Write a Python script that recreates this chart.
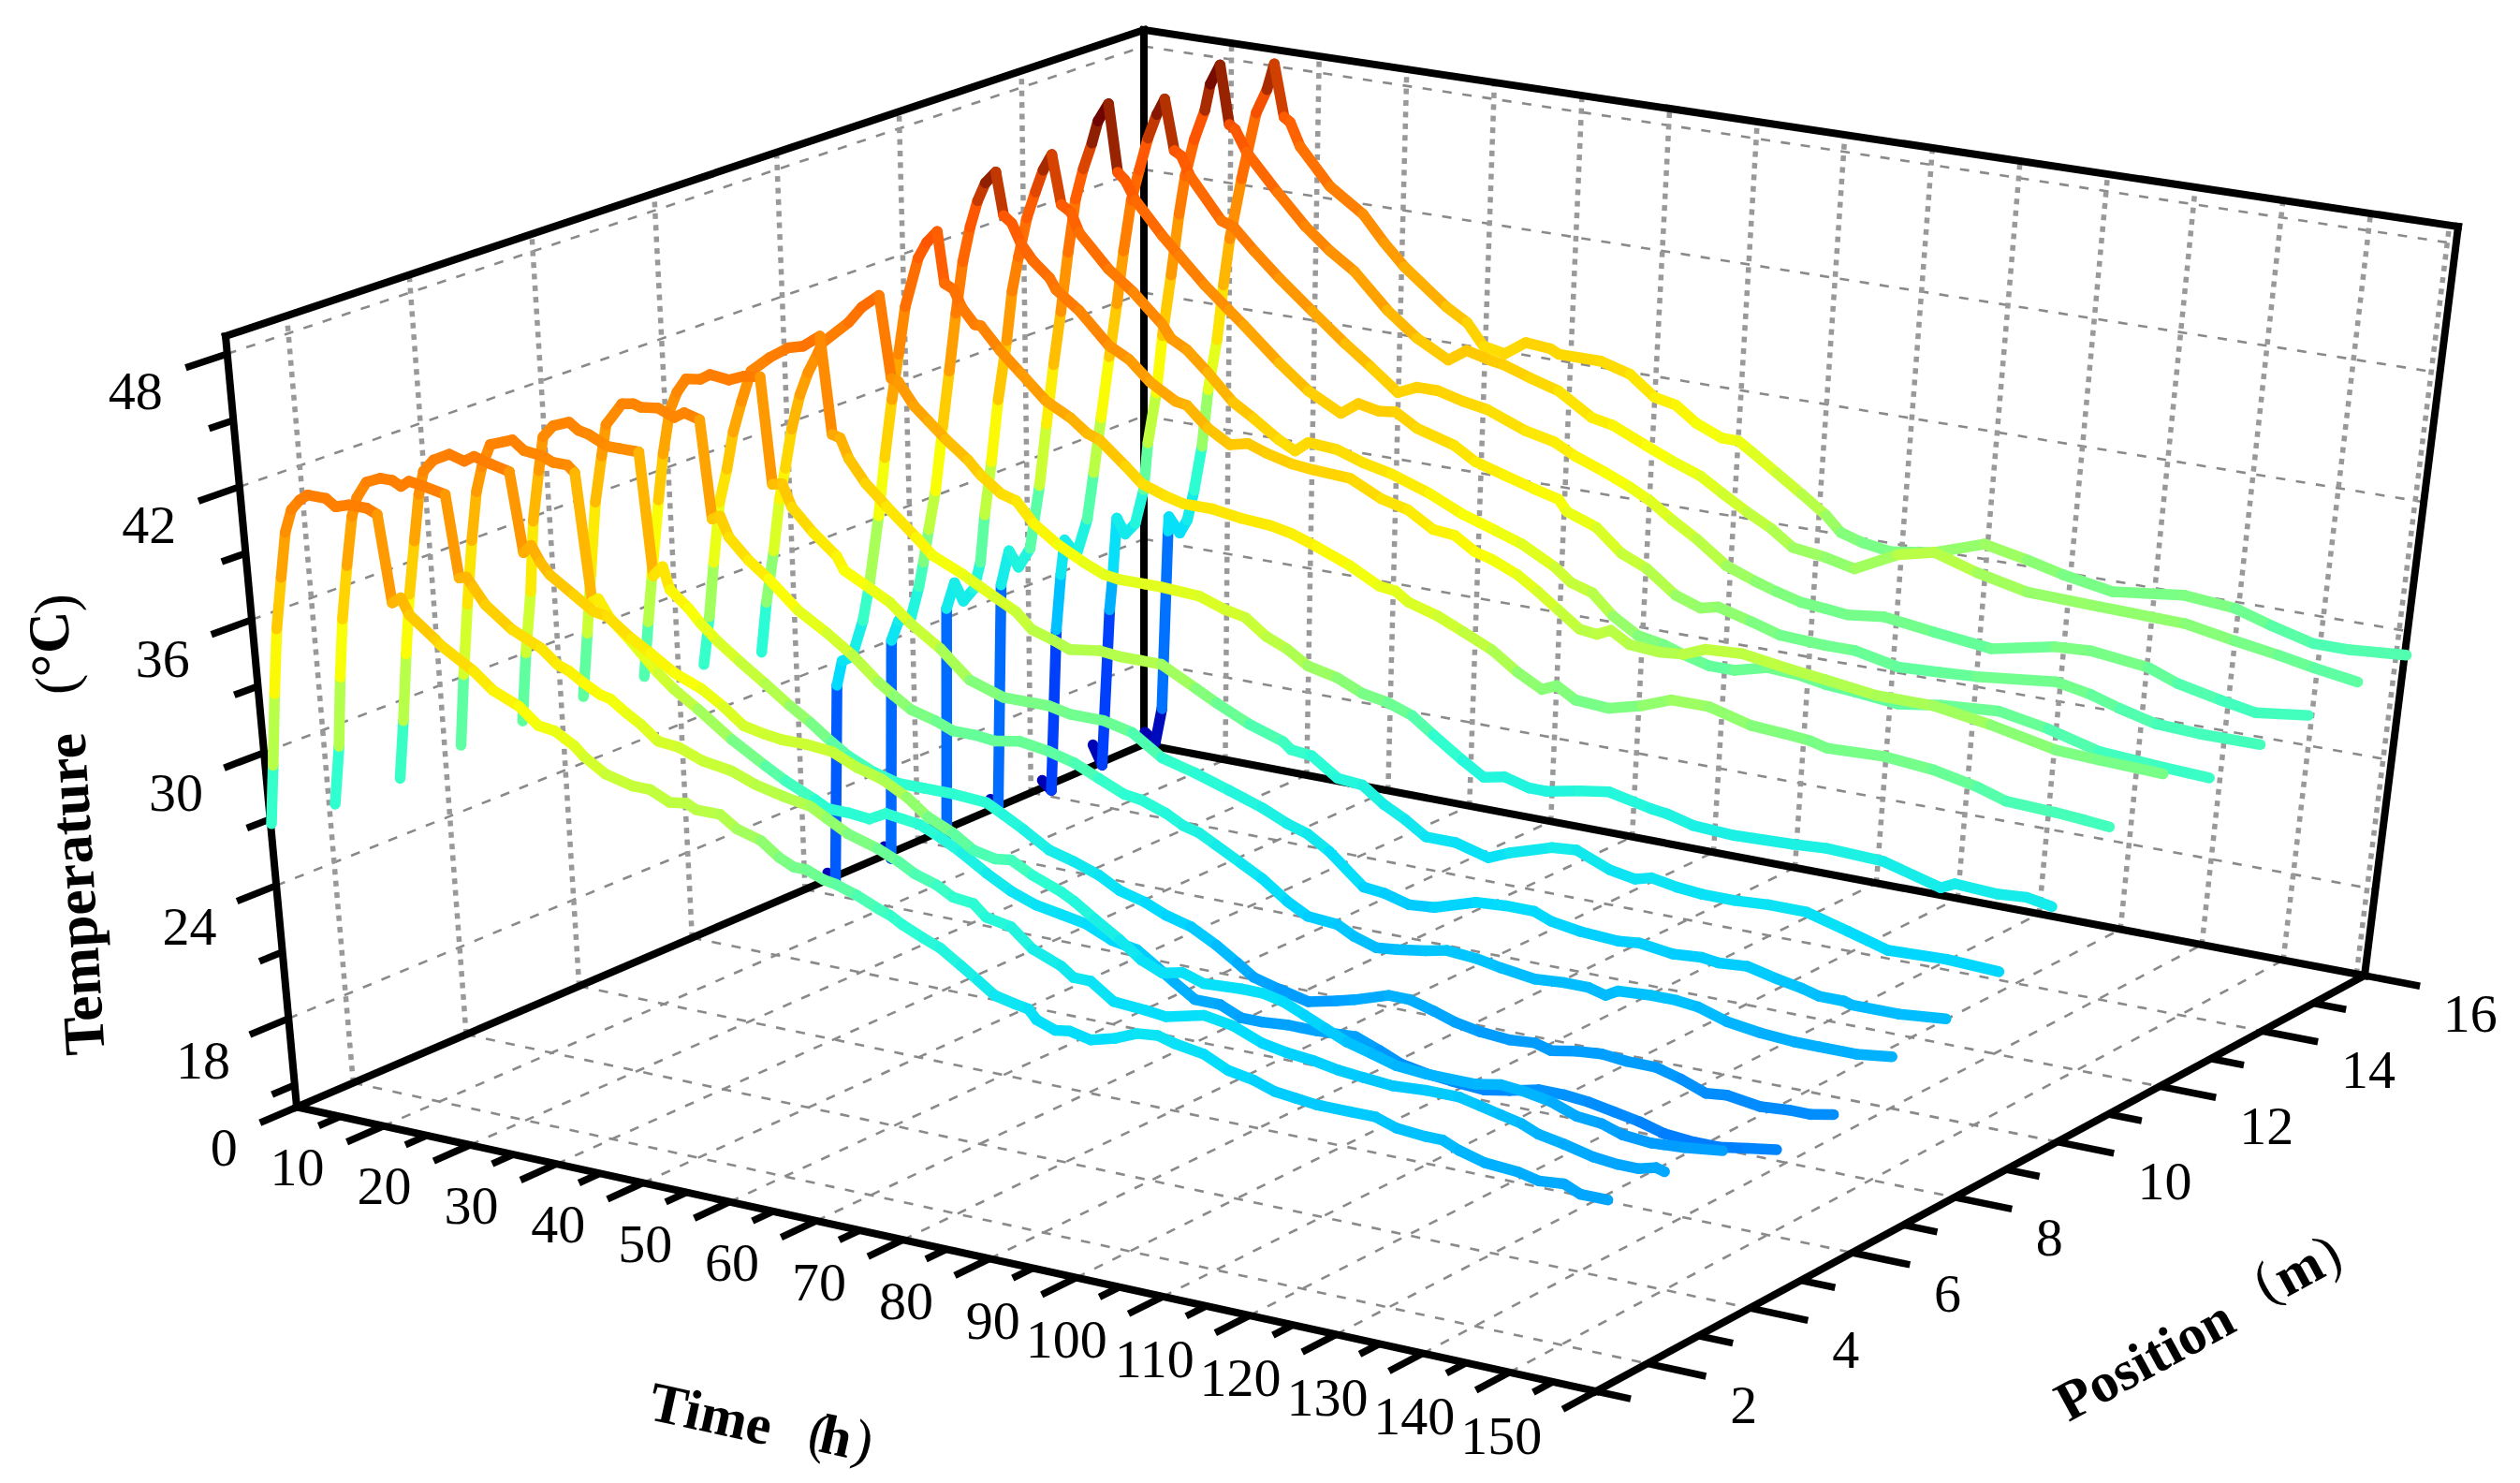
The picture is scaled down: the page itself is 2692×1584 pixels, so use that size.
import numpy as np, pandas as pd, altair as alt

# (time h, temperature C), one list per position (1..16 m)
L1=[(0.1,26.8),(0.9,29.5),(1.8,32.8),(2.7,35.8),(3.7,38.2),(4.6,40.3),(5.5,41.4),(6.5,41.9),(7.4,42.2),(9.4,42.2),(10.4,41.9),(11.9,42.1),(13.8,42.1),(14.9,41.9),(15.8,38.0),(16.8,38.3),
(17.6,37.6),(20.3,36.7),(20.8,36.5),(24.3,35.6),(26.3,34.9),(29.1,34.4),(31.1,33.7),(32.9,33.6),(35.0,33.1),(36.0,32.7),(38.3,32.1),(41.3,31.8),(43.2,31.8),(45.3,31.4),(47.2,31.5),(48.2,31.3),
(50.9,31.3),(52.7,30.8),(55.3,30.5),(57.3,29.9),(58.9,29.6),(60.3,29.6),(62.2,29.3),(63.6,29.2),(65.9,28.9),(68.2,28.5),(69.6,28.3),(70.9,28.0),(73.2,27.6),(75.1,27.3),(77.4,26.7),(79.3,26.2),
(81.1,25.7),(83.4,25.5),(84.9,25.4),(85.8,25.0),(87.9,24.7),(89.5,24.8),(91.9,24.6),(94.7,24.9),(97.1,25.3),(99.4,25.4),(101.3,25.2),(104.6,25.0),(107.4,24.5),(110.3,24.3),(112.6,24.0),(115.0,23.9),
(117.3,23.8),(117.9,23.8),(121.2,23.8),(124.0,23.8),(126.4,23.5),(129.7,23.4),(131.6,23.4),(133.5,23.1),(136.4,22.8),(140.2,22.7),(142.6,22.5),(145.4,22.6),(147.3,22.3),(150.4,22.3)]
L2=[(0.7,26.7),(1.7,29.4),(2.5,32.6),(3.3,35.3),(4.3,37.8),(5.3,40.1),(6.0,41.0),(7.2,41.8),(8.8,42.1),(10.1,42.1),(11.0,41.9),(11.9,42.2),(13.5,42.1),(15.8,41.9),(16.7,38.2),(17.5,38.3),
(18.2,37.9),(19.4,37.2),(22.2,36.3),(25.3,35.7),(27.0,35.1),(28.3,34.9),(29.8,34.5),(31.6,34.1),(32.7,34.0),(34.4,33.5),(36.0,33.1),(37.8,32.5),(40.1,32.4),(42.7,32.0),(45.9,31.8),(48.5,31.4),
(51.7,31.1),(54.6,30.9),(56.4,30.5),(58.7,30.0),(62.0,29.6),(64.3,29.2),(66.1,28.8),(68.5,28.5),(70.3,28.1),(72.6,28.0),(74.0,27.5),(76.8,27.3),(79.2,26.5),(82.4,26.0),(83.8,25.6),(85.7,25.6),
(88.3,24.9),(91.9,24.8),(94.2,24.7),(98.5,25.1),(101.8,24.9),(105.1,24.4),(107.9,24.2),(110.8,24.1),(113.7,23.9),(116.6,23.8),(119.9,23.7),(123.7,23.8),(127.5,23.8),(129.9,23.6),(132.2,23.4),(134.6,23.2),
(136.5,22.9),(139.4,22.7),(142.8,22.4),(145.6,22.3),(148.0,22.3),(149.9,22.5),(150.9,22.4)]
L3=[(1.5,26.9),(2.4,29.6),(3.3,32.7),(4.2,35.5),(5.2,38.0),(6.1,40.2),(6.8,41.3),(8.0,41.9),(9.8,42.3),(11.4,42.1),(12.5,42.4),(14.3,42.2),(16.3,42.0),(17.3,38.4),(18.2,38.8),(19.1,38.1),
(20.1,37.6),(22.6,36.9),(24.7,36.3),(26.2,36.2),(28.8,35.4),(30.8,34.9),(33.4,34.2),(36.4,33.7),(38.7,33.1),(40.9,32.4),(43.3,32.2),(45.1,32.1),(47.9,32.1),(50.7,32.0),(53.5,31.5),(56.2,31.2),
(59.0,30.6),(61.3,29.9),(64.1,29.4),(66.4,28.8),(68.8,28.6),(70.6,28.7),(73.0,28.2),(76.3,27.7),(77.7,27.4),(80.0,26.8),(82.8,26.1),(85.2,25.4),(87.6,25.0),(89.9,25.2),(92.3,24.9),(96.6,25.0),
(99.0,25.0),(101.4,24.8),(103.8,24.4),(106.2,24.0),(108.6,23.6),(111.5,23.3),(114.3,23.0),(117.7,22.9),(120.5,22.9),(123.4,22.9),(126.2,23.1),(129.1,23.0),(132.0,22.8),(134.9,22.4),(137.8,22.3),(140.2,22.0),
(143.5,21.9),(147.3,22.0),(151.6,22.2)]
L4=[(1.9,27.4),(2.8,30.7),(3.8,34.0),(4.8,37.0),(5.7,39.3),(6.5,40.5),(7.6,41.6),(10.1,42.0),(11.3,41.6),(13.4,41.5),(14.4,41.3),(16.0,41.3),(16.8,41.0),(17.9,35.2),(18.6,35.4),(19.8,34.6),
(22.1,33.7),(24.9,32.5),(26.6,31.9),(29.2,31.2),(32.9,30.1),(36.6,29.2),(38.8,28.7),(42.1,28.1),(43.5,27.8),(45.8,27.8),(48.2,27.7),(50.1,28.1),(53.9,27.9),(56.2,27.5),(58.6,27.0),(61.4,26.3),
(64.2,25.7),(67.0,25.3),(69.9,25.1),(72.7,24.9),(75.6,24.4),(78.5,24.2),(80.8,23.6),(82.7,23.1),(85.1,22.5),(88.0,22.5),(90.4,22.1),(92.8,22.1),(95.7,22.2),(97.2,22.2),(99.1,22.2),(103.5,22.3),
(106.3,21.9),(108.8,21.5),(111.7,21.3),(114.6,21.2),(118.4,21.1),(121.3,21.3),(124.6,21.6),(127.5,21.6),(130.4,21.5),(133.3,21.3),(136.2,21.1),(139.1,20.8),(142.5,20.7),(145.4,20.7),(148.7,20.9),(152.0,21.1)]
L5=[(2.3,27.5),(3.2,30.7),(4.2,33.6),(5.0,36.9),(6.0,39.3),(6.7,40.9),(7.9,41.5),(9.7,41.8),(10.7,41.5),(11.8,41.4),(13.8,41.0),(15.2,41.0),(17.3,41.0),(18.2,35.4),(19.3,35.9),(20.0,34.9),
(22.0,34.2),(23.3,33.6),(25.2,32.9),(27.5,32.2),(30.3,31.4),(33.0,30.6),(35.3,30.0),(37.6,29.3),(39.5,28.8),(42.3,28.3),(45.1,28.0),(48.0,28.0),(51.3,28.0),(55.1,27.9),(57.0,27.5),(59.3,27.0),
(62.2,26.3),(65.0,26.0),(67.9,25.6),(70.2,25.1),(73.1,24.8),(75.5,24.4),(78.4,24.1),(81.3,23.5),(83.7,22.9),(85.6,22.4),(88.5,22.1),(91.9,21.8),(95.2,22.1),(97.2,22.3),(101.1,22.8),(103.5,22.8),
(106.4,22.5),(108.8,22.2),(111.7,22.0),(115.1,21.9),(118.0,22.0),(119.9,21.8),(122.8,22.0),(125.7,22.1),(128.6,22.0),(131.9,22.0),(134.9,21.7),(137.8,21.3),(140.2,21.4),(144.1,21.2),(147.4,21.3),(149.9,21.3),
(152.5,21.5)]
L6=[(2.6,27.6),(3.5,30.6),(4.3,33.4),(5.3,36.8),(6.3,39.0),(7.0,40.5),(8.9,41.6),(10.2,41.7),(11.0,41.6),(12.9,41.7),(14.7,41.4),(15.8,41.7),(17.5,41.5),(18.4,37.0),(19.3,37.2),(20.2,36.3),
(22.3,35.4),(24.5,34.7),(27.7,33.5),(30.9,32.7),(33.7,31.9),(36.5,30.9),(38.3,30.4),(40.2,29.9),(43.0,29.6),(44.9,29.3),(47.3,29.3),(49.7,29.2),(52.5,29.4),(55.8,29.2),(58.7,28.9),(61.5,28.4),
(64.4,27.9),(66.3,27.8),(69.2,27.4),(71.1,27.0),(73.0,26.8),(74.9,26.4),(77.8,25.8),(80.2,25.3),(83.1,24.5),(85.5,24.0),(88.9,23.9),(90.9,23.5),(93.4,23.2),(95.8,23.3),(99.1,23.5),(101.5,23.7),
(104.9,23.6),(107.8,23.4),(111.7,23.2),(115.1,23.3),(117.9,23.3),(119.9,23.1),(121.3,23.4),(125.2,23.5),(128.0,23.5),(130.5,23.4),(133.9,23.0),(137.8,22.8),(141.7,22.7),(144.6,22.7),(148.9,22.7),(153.0,22.9)]
L7=[(2.9,27.5),(3.7,30.1),(4.4,32.3),(5.6,35.9),(6.4,38.1),(7.4,40.2),(8.3,41.1),(9.4,41.8),(11.0,41.9),(12.1,42.2),(14.2,42.1),(15.9,42.4),(17.7,42.5),(18.6,37.6),(19.7,37.7),(20.7,36.7),
(23.0,35.7),(25.6,34.8),(26.4,34.2),(29.2,33.6),(31.5,33.1),(33.8,32.3),(37.1,31.4),(40.4,30.2),(44.2,29.7),(49.4,29.7),(51.8,29.5),(55.6,29.5),(58.9,29.2),(62.3,28.3),(66.1,27.9),(70.0,27.4),
(73.8,26.9),(76.7,26.4),(79.1,26.1),(81.6,25.5),(85.6,24.2),(88.0,24.1),(90.9,23.8),(93.8,23.9),(98.6,24.5),(102.0,24.6),(105.3,24.6),(107.3,24.3),(110.7,24.1),(115.1,24.0),(117.5,24.1),(121.4,23.9),
(124.7,24.0),(126.7,23.9),(130.0,24.0),(133.5,23.7),(136.4,23.5),(138.4,23.3),(141.3,23.3),(142.2,23.2),(147.7,23.2),(153.1,23.4)]
L8=[(3.0,27.0),(3.9,29.3),(4.7,31.9),(5.7,34.8),(6.7,36.4),(7.6,38.2),(8.7,39.7),(9.9,41.2),(12.1,42.0),(14.2,42.6),(15.9,42.8),(17.8,43.4),(18.8,38.9),(19.7,38.8),(20.6,37.9),(22.4,36.9),
(24.7,36.0),(28.0,34.8),(29.8,34.1),(33.1,33.5),(34.0,33.3),(36.8,32.7),(39.2,32.2),(41.0,31.5),(43.4,31.2),(45.3,30.9),(48.7,31.1),(51.1,31.0),(53.4,31.0),(55.8,31.0),(59.7,30.2),(62.1,29.7),
(65.9,29.0),(69.8,28.5),(70.7,28.2),(73.1,28.1),(76.1,27.3),(79.0,27.2),(81.5,26.5),(84.0,26.0),(86.4,25.4),(89.8,25.4),(93.7,25.0),(96.1,25.4),(100.9,26.0),(103.8,26.1),(107.7,25.5),(110.6,25.3),
(112.5,25.5),(115.5,25.3),(118.4,25.2),(122.2,25.2),(126.1,25.3),(130.5,25.3),(135.4,24.8),(140.1,24.3),(146.9,24.4),(153.0,24.3)]
L9=[(2.9,26.5),(3.7,28.9),(4.8,31.4),(5.7,33.9),(6.5,35.4),(7.4,37.3),(8.5,39.0),(9.5,40.1),(10.7,41.1),(11.2,41.6),(14.3,42.8),(15.8,43.6),(17.8,44.3),(18.9,40.5),(19.7,40.4),(21.4,39.4),
(23.0,38.8),(24.9,38.1),(27.4,37.3),(28.8,36.7),(31.1,36.0),(32.8,35.8),(34.7,34.9),(37.5,34.1),(40.4,33.5),(42.7,33.1),(44.4,33.0),(47.3,33.0),(49.3,33.0),(53.6,32.9),(56.5,32.5),(58.9,32.3),
(61.3,31.6),(63.7,31.2),(66.1,30.6),(69.5,30.3),(72.4,29.8),(75.3,29.6),(78.2,29.2),(80.7,28.5),(84.1,27.6),(86.6,27.0),(89.0,27.2),(91.9,26.9),(93.9,26.9),(97.7,27.2),(101.1,27.4),(106.0,27.0),
(107.9,26.9),(110.9,26.6),(115.7,26.5),(122.5,26.6),(126.4,26.7),(133.0,26.6),(139.8,25.9),(141.4,26.2),(146.4,26.1),(149.7,26.2),(152.7,26.0)]
L10=[(2.8,15.0),(3.7,14.6),(4.7,24.0),(5.4,25.2),(6.6,25.5),(8.0,27.3),(8.9,29.1),(10.2,32.4),(11.1,35.2),(12.1,38.0),(13.0,40.2),(13.9,42.5),(15.5,44.9),(16.5,45.7),(17.7,46.3),(18.4,43.9),
(19.4,43.7),(20.3,42.9),(21.7,42.2),(22.4,42.2),(24.5,41.2),(26.8,40.3),(29.6,39.2),(32.4,38.6),(34.3,38.0),(35.7,37.8),(38.6,36.8),(40.5,36.1),(43.3,35.7),(45.2,35.5),(48.5,35.5),(51.8,35.3),(55.2,35.2),
(57.6,35.0),(60.5,34.6),(64.3,34.0),(67.7,33.3),(69.6,33.2),(71.1,32.8),(74.5,32.4),(77.4,31.9),(80.8,31.3),(83.8,30.5),(86.7,29.9),(88.4,30.2),(90.6,29.7),(94.5,29.6),(98.3,30.0),(101.6,30.5),
(106.0,30.5),(110.9,30.0),(114.8,29.9),(117.7,29.8),(119.7,29.6),(126.3,29.7),(132.1,29.5),(137.2,29.1),(140.6,28.7),(146.4,28.6),(149.8,28.5),(152.7,28.4)]
L11=[(2.8,15.1),(3.6,14.6),(4.4,25.0),(5.3,26.0),(6.8,26.3),(7.8,27.8),(8.4,29.0),(9.1,30.6),(10.0,32.5),(11.0,35.6),(11.9,38.3),(12.8,41.1),(13.7,43.6),(14.6,45.3),(15.5,46.6),(16.4,47.5),
(17.6,48.1),(18.4,46.1),(19.3,45.8),(20.3,44.9),(21.6,44.2),(23.5,43.5),(24.2,43.0),(26.8,42.2),(30.1,40.8),(32.4,40.3),(34.8,39.4),(37.7,38.7),(39.0,38.6),(41.4,37.7),(43.9,37.1),(46.0,37.3),
(48.1,37.0),(51.0,36.7),(53.4,36.6),(57.7,36.5),(61.3,35.8),(64.4,35.5),(67.3,34.8),(69.8,34.7),(72.2,34.1),(74.1,33.9),(77.1,33.4),(79.5,32.8),(82.0,32.1),(84.5,31.4),(86.5,31.3),(88.1,31.6),
(90.3,31.1),(93.8,31.0),(96.6,31.1),(99.0,31.5),(103.3,31.6),(108.7,31.3),(113.0,31.1),(119.0,30.8),(125.6,30.8),(132.3,30.4),(140.0,29.8),(145.0,29.7),(152.5,29.6)]
L12=[(2.0,15.0),(3.5,14.5),(4.1,25.4),(5.1,26.7),(6.1,25.9),(7.4,26.6),(8.2,27.9),(8.8,30.2),(9.7,32.8),(10.6,35.8),(11.7,38.7),(12.4,41.1),(13.2,42.8),(14.2,44.7),(15.2,46.0),(16.1,47.1),
(17.1,47.9),(18.1,45.6),(19.2,45.3),(20.1,44.4),(23.4,42.9),(26.2,42.0),(29.5,40.7),(30.5,40.1),(32.3,39.7),(34.7,38.8),(37.6,37.6),(40.0,37.0),(42.9,36.2),(44.8,35.8),(46.3,36.3),(49.6,36.2),
(52.6,35.8),(55.9,35.5),(60.3,34.9),(64.2,34.2),(68.1,33.7),(71.1,33.3),(75.0,32.5),(77.0,31.9),(79.5,31.6),(82.0,30.7),(85.0,30.0),(88.0,29.8),(90.4,29.5),(93.4,29.2),(96.3,29.2),(100.2,29.6),
(104.1,29.5),(107.0,29.3),(110.4,29.2),(115.5,29.0),(120.5,29.3),(127.1,29.5),(133.0,29.1),(139.1,28.5),(146.7,28.3),(152.1,28.2)]
L13=[(2.0,15.0),(2.9,14.6),(3.7,25.4),(4.7,27.1),(5.8,26.4),(7.2,27.4),(8.4,30.5),(9.3,33.5),(10.2,36.4),(11.1,39.0),(12.0,41.9),(12.9,44.5),(13.8,46.0),(14.8,47.3),(15.5,48.4),(16.7,49.3),
(17.7,46.1),(18.5,45.8),(19.7,44.9),(22.8,43.4),(24.7,42.6),(27.6,41.4),(30.4,40.4),(32.1,39.8),(36.2,38.3),(39.6,37.2),(43.4,36.4),(45.4,37.0),(47.8,36.8),(49.7,36.9),(52.2,36.3),(56.5,35.8),
(59.0,35.2),(62.4,34.8),(65.9,34.4),(68.8,34.1),(69.8,33.6),(73.3,33.1),(76.3,32.1),(79.3,31.6),(82.8,30.6),(85.8,30.2),(87.8,30.4),(91.7,30.0),(95.2,29.6),(100.5,29.5),(104.0,29.5),(109.1,29.1),
(114.1,29.2),(118.3,29.3),(127.5,29.7),(131.7,29.4),(135.2,29.0),(139.5,28.6),(144.6,28.5),(151.8,28.5)]
L14=[(1.4,14.7),(2.5,14.3),(3.3,22.1),(3.9,24.8),(4.4,26.5),(5.8,25.9),(7.1,27.7),(7.9,30.0),(8.8,32.7),(9.8,35.7),(10.7,38.3),(11.5,40.9),(12.4,43.4),(13.3,44.9),(14.3,46.5),(15.3,47.7),
(16.2,48.5),(17.3,46.1),(18.1,45.9),(19.1,45.0),(22.7,43.1),(24.1,42.9),(26.5,41.9),(29.4,40.8),(33.2,39.5),(37.1,38.2),(40.1,37.3),(43.3,36.3),(45.5,36.7),(47.9,36.7),(50.8,36.4),(53.7,36.2),
(58.2,35.5),(61.6,35.2),(64.1,34.7),(67.5,34.2),(70.5,33.7),(73.0,33.2),(75.6,32.5),(78.6,31.8),(82.2,30.8),(85.7,30.3),(88.2,30.0),(91.2,29.7),(94.1,29.6),(96.7,29.5),(100.9,29.7),(106.9,29.4),
(113.7,29.1),(121.1,29.7),(125.3,29.8),(132.1,29.5),(135.7,29.0),(140.8,28.6),(145.1,28.3),(151.2,28.6)]
L15=[(0.7,15.2),(1.8,14.3),(2.8,21.9),(3.2,23.6),(3.7,26.4),(4.7,25.7),(5.9,26.3),(6.9,28.0),(7.4,30.3),(8.4,32.8),(9.1,35.6),(10.1,38.6),(11.0,41.6),(11.7,43.5),(12.7,45.3),(13.9,46.8),
(14.5,48.1),(15.6,49.1),(16.7,46.3),(17.4,46.1),(18.7,45.1),(22.3,43.4),(25.5,42.0),(28.4,41.0),(31.3,40.2),(35.2,38.6),(38.7,37.5),(42.4,36.7),(44.5,37.3),(47.5,37.0),(48.9,36.9),(51.9,36.5),
(55.3,36.1),(59.3,35.1),(61.8,34.9),(65.8,34.2),(68.8,33.7),(72.3,33.2),(74.8,32.6),(77.9,31.9),(80.9,31.3),(83.5,30.6),(87.4,30.4),(90.9,30.1),(95.8,31.1),(100.0,31.5),(105.2,30.9),(111.2,30.4),
(119.7,30.3),(129.9,30.2),(135.9,29.8),(141.1,29.5),(145.4,29.2),(150.7,28.9)]
L16=[(0.1,14.6),(1.4,14.2),(2.2,15.9),(2.9,24.6),(3.0,25.3),(4.3,24.6),(5.2,25.3),(6.0,26.8),(6.9,29.0),(7.6,31.8),(8.6,34.3),(9.3,37.0),(10.0,39.3),(11.3,42.3),(12.9,45.6),(14.1,46.8),
(14.9,48.1),(16.1,45.6),(16.8,45.4),(18.0,44.3),(21.5,42.6),(25.4,41.5),(27.9,40.3),(30.3,39.3),(35.3,37.7),(37.8,37.1),(39.8,36.1),(42.3,35.9),(44.7,36.6),(47.6,36.5),(48.6,36.3),(53.5,36.3),
(57.0,35.9),(60.0,35.0),(62.5,34.8),(65.0,34.1),(68.1,33.6),(70.0,33.6),(71.6,33.2),(74.7,32.4),(77.8,31.6),(80.8,30.8),(82.7,30.1),(85.3,29.8),(88.7,29.6),(93.8,29.9),(99.6,30.7),(104.8,30.3),
(109.1,29.9),(115.1,29.5),(123.5,29.9),(129.6,29.7),(134.0,29.2),(139.2,28.7),(143.5,28.7),(150.2,28.9)]
SERIES={1:L1,2:L2,3:L3,4:L4,5:L5,6:L6,7:L7,8:L8,9:L9,10:L10,11:L11,12:L12,13:L13,14:L14,15:L15,16:L16}

TIME_TICKS=list(range(0,155,5));POS_TICKS=list(range(1,17));TEMP_TICKS=list(range(15,49,3))
MAJOR_T=[18,24,30,36,42,48]
Z0,Z1=14,48.8
# box corners on the page (camera of this drawing)
C=np.zeros((2,2,2,2))
C[0,0,0]=(317,1182.5);C[1,0,0]=(1705,1486);C[0,1,0]=(1222,795);C[1,1,0]=(2526,1042)
C[0,0,1]=(241,359);C[1,0,1]=(1742,626);C[0,1,1]=(1222,32);C[1,1,1]=(2626,242)
def project(t,p,z):
    u,v,w=t/150,(p-1)/15,(z-Z0)/(Z1-Z0)
    r=0
    for i,a in enumerate((1-u,u)):
        for j,b in enumerate((1-v,v)):
            for k,c in enumerate((1-w,w)):
                r=r+a*b*c*C[i,j,k]
    return r[0]-8,r[1]-8

def jet(x):
    c=lambda v:int(round(255*min(1,max(0,v))))
    return '#%02x%02x%02x'%(c(1.5-abs(4*x-3)),c(1.5-abs(4*x-2)),c(1.5-abs(4*x-1)))
J_STOPS=[(12,.03),(14.5,.05),(18.3,.19),(24.5,.34),(28,.42),(31,.55),(34,.62),(36.7,.67),(38.9,.71),(42,.75),(44,.77)]
TOP_STOPS=[(46,'#ff5500'),(47,'#c83c00'),(47.8,'#902000'),(49,'#6b0000')]
C_DOM=[s[0] for s in J_STOPS]+[s[0] for s in TOP_STOPS]
C_RNG=[jet(s[1]) for s in J_STOPS]+[s[1] for s in TOP_STOPS]

W,H=2670,1565
sx=alt.Scale(domain=[0,W],range=[0,W],nice=False,zero=False)
sy=alt.Scale(domain=[0,H],range=[0,H],nice=False,zero=False)
def seg(a,b):
    x,y=project(*a);x2,y2=project(*b)
    return dict(x=x,y=y,x2=x2,y2=y2)
def rules(rows,**kw):
    return alt.Chart(pd.DataFrame(rows)).mark_rule(**kw).encode(x=alt.X('x:Q',scale=sx,axis=None),y=alt.Y('y:Q',scale=sy,axis=None),x2='x2:Q',y2='y2:Q')
g_thin=[];g_dot=[]
for z in MAJOR_T:
    g_thin.append(seg((0,1,z),(0,16,z)));g_thin.append(seg((0,16,z),(150,16,z)))
for p in range(2,16,2):
    g_dot.append(seg((0,p,Z0),(0,p,Z1)));g_thin.append(seg((0,p,Z0),(150,p,Z0)))
for t in range(10,160,10):
    tt=t if t<150 else 149
    g_dot.append(seg((tt,16,Z0),(tt,16,Z1)))
    if t<150: g_thin.append(seg((t,1,Z0),(t,16,Z0)))
grid=rules(g_thin,color='#8a8a8a',strokeWidth=2.6,strokeDash=[10,11.5])
dots=rules(g_dot,color='#999999',strokeWidth=5.5,strokeDash=[6,6.4])
frame=[((0,1,Z0),(150,1,Z0)),((0,1,Z0),(0,16,Z0)),((150,1,Z0),(150,16,Z0)),((0,16,Z0),(150,16,Z0)),((0,1,Z0),(0,1,Z1)),((0,16,Z0),(0,16,Z1)),((150,16,Z0),(150,16,Z1)),((0,1,Z1),(0,16,Z1)),((0,16,Z1),(150,16,Z1))]
box=rules([seg(a,b) for a,b in frame],color='black',strokeWidth=8,strokeCap='square')
ticks=[]
for t in TIME_TICKS:
    d=.65 if t%10==0 else .38
    ticks.append(seg((t,1,Z0),(t,1-d,Z0)))
for p in POS_TICKS:
    d=6.8 if p%2==0 else 4
    ticks.append(seg((150,p,Z0),(150+d,p,Z0)))
for z in TEMP_TICKS:
    d=.68 if z%6==0 else .4
    ticks.append(seg((0,1,z),(0,1-d,z)))
tickmarks=rules(ticks,color='black',strokeWidth=7.5)
rows=[]
for p in range(16,0,-1):
    pts=SERIES[p]
    for a,b in zip(pts[:-1],pts[1:]):
        d=seg((a[0],p,a[1]),(b[0],p,b[1]));d['v']=(a[1]+b[1])/2;rows.append(d)
lines=alt.Chart(pd.DataFrame(rows)).mark_rule(strokeWidth=11.5,strokeCap='round').encode(x=alt.X('x:Q',scale=sx,axis=None),y=alt.Y('y:Q',scale=sy,axis=None),x2='x2:Q',y2='y2:Q',color=alt.Color('v:Q',legend=None,scale=alt.Scale(domain=C_DOM,range=C_RNG,interpolate='rgb')))
def txt(rows,**kw):
    return alt.Chart(pd.DataFrame(rows)).mark_text(font='Liberation Serif',**kw).encode(x=alt.X('x:Q',scale=sx,axis=None),y=alt.Y('y:Q',scale=sy,axis=None),text='s:N')
def lab(pos,s):
    return dict(x=pos[0],y=pos[1],s=s)
tl=txt([lab(project(t,0,Z0),str(t)) for t in range(0,160,10)],fontSize=58,align='right',baseline='middle',dy=20,dx=-3)
pl=txt([lab(project(159.4,p,Z0),str(p)) for p in range(2,17,2)],fontSize=58,align='left',baseline='middle',dy=28,dx=2)
zl=txt([lab(project(0,-.5,z),str(z)) for z in MAJOR_T],fontSize=58,align='center',baseline='middle',dy=9)
def title(x,y,s,angle,weight='bold',size=60):
    return txt([dict(x=x-8,y=y-8,s=s)],fontSize=size,align='center',baseline='middle',angle=angle,fontWeight=weight)
titles=[title(82,955,'Temperature',266.4,size=62),title(62,732,'(',266.4,'normal',62),title(55,688,'°C',266.4,size=62),title(60,645,')',266.4,'normal',62),
 title(759,1512,'Time',12.4),title(874,1532,'(',12.4,'normal'),title(893,1536,'h',12.4),title(922,1540,')',12.4,'normal'),
 title(2292,1454,'Position',331.5),title(2421,1371,'(',331.5,'normal'),title(2456,1358,'m',331.5),title(2488,1340,')',331.5,'normal')]
chart=alt.layer(grid,dots,box,tickmarks,lines,tl,pl,zl,*titles).properties(width=W,height=H,padding=0,autosize=alt.AutoSizeParams(type='none')).configure_view(stroke=None)
chart.save('out.html',embed_options={"renderer":"svg","actions":False})
